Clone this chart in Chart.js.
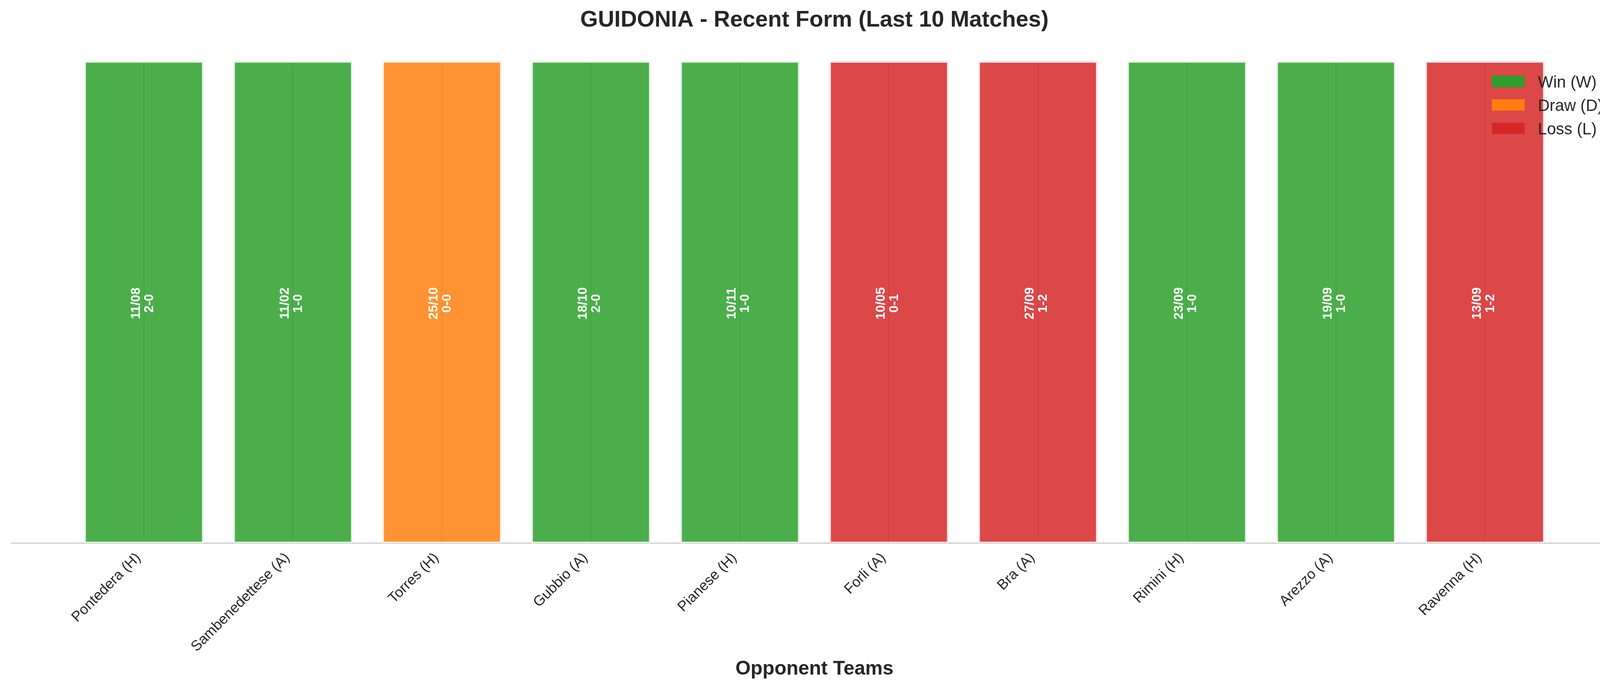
<!DOCTYPE html>
<html>
<head>
<meta charset="utf-8">
<title>GUIDONIA - Recent Form</title>
<script src="https://cdn.jsdelivr.net/npm/chart.js@4.4.1/dist/chart.umd.min.js"></script>
<style>
  html, body { margin: 0; padding: 0; background: #ffffff; overflow: hidden; }
  #wrap { width: 4170px; height: 1769px; position: relative; }
</style>
</head>
<body>
<div id="wrap"><canvas id="form"></canvas></div>
<script>
// last 10 matches, oldest on the left as in the source chart
const opponents = ['Pontedera (H)', 'Sambenedettese (A)', 'Torres (H)', 'Gubbio (A)', 'Pianese (H)',
                   'Forli (A)', 'Bra (A)', 'Rimini (H)', 'Arezzo (A)', 'Ravenna (H)'];
const matchDates = ['11/08', '11/02', '25/10', '18/10', '10/11', '10/05', '27/09', '23/09', '19/09', '13/09'];
const scores = ['2-0', '1-0', '0-0', '2-0', '1-0', '0-1', '1-2', '1-0', '1-0', '1-2'];
const results = ['W', 'W', 'D', 'W', 'W', 'L', 'L', 'W', 'W', 'L'];
const barHeights = [1, 1, 1, 1, 1, 1, 1, 1, 1, 1];

const outcomeCodes = ['W', 'D', 'L'];
const outcomeLabels = ['Win (W)', 'Draw (D)', 'Loss (L)'];
const outcomeColors = ['#2ca02c', '#ff7f0e', '#d62728'];

const FONT = '"Liberation Sans", Arial, Helvetica, sans-serif';
const TEXT = '#262626';
const BAR_ALPHA = 0.85;

function rgb(hex) {
  const n = parseInt(hex.slice(1), 16);
  return [(n >> 16) & 255, (n >> 8) & 255, n & 255];
}
function fillColor(hex) {
  const [r, g, b] = rgb(hex);
  return `rgba(${r},${g},${b},${BAR_ALPHA})`;
}
// white edge at the same alpha, laid over the bar colour
function edgeColor(hex) {
  const c = rgb(hex).map(v => v * BAR_ALPHA + 255 * (1 - BAR_ALPHA));
  const e = c.map(v => Math.round(255 * BAR_ALPHA + v * (1 - BAR_ALPHA)));
  return `rgb(${e[0]},${e[1]},${e[2]})`;
}

Chart.defaults.font.family = FONT;
Chart.defaults.color = TEXT;

const datasets = outcomeCodes.map((code, k) => ({
  label: outcomeLabels[k],
  data: results.map((r, i) => (r === code ? { x: i, y: barHeights[i] } : null)).filter(Boolean),
  backgroundColor: fillColor(outcomeColors[k]),
  borderColor: edgeColor(outcomeColors[k]),
  borderWidth: 4,
  borderSkipped: false,
  barPercentage: 0.8,
  categoryPercentage: 1,
  grouped: false,
  legendColor: outcomeColors[k]
}));

// date + score written up the middle of each bar
const barText = {
  id: 'barText',
  afterDatasetsDraw(chart) {
    const ctx = chart.ctx;
    ctx.save();
    ctx.fillStyle = '#ffffff';
    ctx.font = `bold 33px ${FONT}`;
    ctx.textAlign = 'center';
    ctx.textBaseline = 'middle';
    chart.data.datasets.forEach((ds, di) => {
      chart.getDatasetMeta(di).data.forEach((bar, j) => {
        const i = ds.data[j].x;
        const lines = [matchDates[i], scores[i]];
        ctx.save();
        ctx.translate(bar.x - 3, (bar.y + bar.base) / 2 + 3);
        ctx.rotate(-Math.PI / 2);
        lines.forEach((t, k) => ctx.fillText(t, 0, (k - (lines.length - 1) / 2) * 34));
        ctx.restore();
      });
    });
    ctx.restore();
  }
};

// legend sits inside the plot, top right corner
const cornerLegend = {
  id: 'cornerLegend',
  afterDraw(chart) {
    const { ctx, chartArea } = chart;
    const x0 = chartArea.right - 322;
    let y = chartArea.top + 52;
    ctx.save();
    ctx.font = `41.7px ${FONT}`;
    ctx.textAlign = 'left';
    ctx.textBaseline = 'alphabetic';
    chart.data.datasets.forEach(ds => {
      ctx.fillStyle = ds.legendColor;
      ctx.fillRect(x0, y - 14.5, 84, 29);
      ctx.fillStyle = TEXT;
      ctx.fillText(ds.label, x0 + 118, y + 15);
      y += 60;
    });
    ctx.restore();
  }
};

const pad = 0.89;

new Chart(document.getElementById('form'), {
  type: 'bar',
  data: { datasets },
  plugins: [barText, cornerLegend],
  options: {
    responsive: true,
    maintainAspectRatio: false,
    devicePixelRatio: 1,
    animation: false,
    layout: { padding: { left: 29, right: 29, top: 0, bottom: 0 } },
    plugins: {
      legend: { display: false },
      tooltip: { enabled: false },
      title: {
        display: true,
        text: 'GUIDONIA - Recent Form (Last 10 Matches)',
        color: TEXT,
        font: { size: 58, weight: 'bold', family: FONT, lineHeight: 1.2 },
        padding: { top: 17, bottom: 70 }
      }
    },
    scales: {
      x: {
        type: 'linear',
        offset: false,
        min: -pad,
        max: opponents.length - 1 + pad,
        afterBuildTicks: axis => { axis.ticks = opponents.map((_, i) => ({ value: i })); },
        ticks: {
          autoSkip: false,
          minRotation: 45,
          maxRotation: 45,
          padding: 16,
          labelOffset: -14,
          color: TEXT,
          font: { size: 37, family: FONT },
          callback: v => opponents[v]
        },
        grid: { offset: false, color: '#cccccc', lineWidth: 3, drawTicks: false },
        border: { color: '#cccccc', width: 3 },
        title: {
          display: true,
          text: 'Opponent Teams',
          color: TEXT,
          font: { size: 50, weight: 'bold', family: FONT, lineHeight: 1.2 },
          padding: { top: -11, bottom: 26 }
        }
      },
      y: { display: false, min: 0, max: 1 }
    }
  }
});
</script>
</body>
</html>
